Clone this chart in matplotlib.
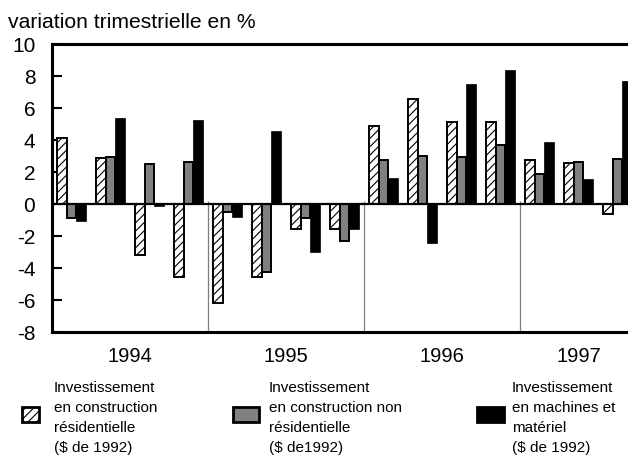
import matplotlib
matplotlib.use('Agg')
import matplotlib.pyplot as plt
import matplotlib.transforms as mtransforms
from matplotlib.patches import Rectangle
import numpy as np

plt.rcParams['font.family'] = ['Liberation Sans', 'DejaVu Sans']
plt.rcParams['hatch.linewidth'] = 0.8
plt.rcParams['axes.unicode_minus'] = False

# quarterly change in %, 1994 Q1 .. 1997 Q3
years = ['1994', '1995', '1996', '1997']
quarters_per_year = [4, 4, 4, 3]
residential = [4.1, 2.9, -3.2, -4.55, -6.2, -4.55, -1.55, -1.55,
               4.85, 6.55, 5.15, 5.15, 2.75, 2.55, -0.6]
non_residential = [-0.85, 2.95, 2.5, 2.6, -0.5, -4.25, -0.85, -2.3,
                   2.75, 3.0, 2.95, 3.7, 1.9, 2.6, 2.8]
machinery = [-1.05, 5.4, -0.1, 5.25, -0.8, 4.55, -3.0, -1.55,
             1.65, -2.45, 7.5, 8.4, 3.9, 1.55, 7.7]

legend_lines = [
    ['Investissement', 'en construction', 'résidentielle', '($ de 1992)'],
    ['Investissement', 'en construction non', 'résidentielle', '($ de1992)'],
    ['Investissement', 'en machines et', 'matériel', '($ de 1992)'],
]

W, H = 628, 457


def fx(x):
    return x / W


def fy(y):
    return 1 - y / H


fig = plt.figure(figsize=(W / 100, H / 100), dpi=100)
ax = fig.add_axes([fx(52), fy(332), (637 - 52) / W, (332 - 44) / H])

n = len(residential)
x = np.arange(n)
bw = 0.25
ax.bar(x + 0.125, residential, bw, align='edge', facecolor='white',
       edgecolor='black', linewidth=1.4, hatch='////', zorder=2)
ax.bar(x + 0.375, non_residential, bw, align='edge', facecolor='#808080',
       edgecolor='black', linewidth=1.4, zorder=2)
ax.bar(x + 0.625, machinery, bw, align='edge', facecolor='black',
       edgecolor='black', linewidth=0.5, zorder=2)

ax.axhline(0, color='black', lw=1.6, zorder=3)

# year separators
bounds = np.cumsum(quarters_per_year)
ax.vlines(bounds[:-1], -8, 0.2, color='#808080', lw=0.9, zorder=1)

ax.set_xlim(0, n)
ax.set_ylim(-8, 10)
ax.set_yticks(range(-8, 11, 2))
ax.set_xticks([])
ax.tick_params(axis='y', direction='in', length=7, width=1.5,
               labelsize=15, pad=12)
for side in ['left', 'top', 'bottom']:
    ax.spines[side].set_linewidth(2.2)
ax.spines['right'].set_visible(False)

trans = mtransforms.blended_transform_factory(ax.transData, ax.transAxes)
starts = np.concatenate([[0], bounds[:-1]])
for yr, s, q in zip(years, starts, quarters_per_year):
    ax.text(s + q / 2, -0.085, yr, transform=trans, ha='center', va='center',
            fontsize=14.5)

fig.text(fx(8), fy(28), 'variation trimestrielle en %', fontsize=15.2,
         va='baseline', ha='left')

# legend
patches = [
    (22, 17, dict(facecolor='white', edgecolor='black', hatch='////')),
    (233, 26, dict(facecolor='#808080', edgecolor='black')),
    (477, 27, dict(facecolor='black', edgecolor='black')),
]
text_x = [54, 269, 512]
for (px, pw, style), tx, lines in zip(patches, text_x, legend_lines):
    rect = Rectangle((fx(px), fy(422)), pw / W, 15 / H, transform=fig.transFigure,
                     linewidth=2, **style)
    fig.add_artist(rect)
    for i, line in enumerate(lines):
        fig.text(fx(tx), fy(392 + 20 * i), line, fontsize=11,
                 va='baseline', ha='left')

fig.savefig('out.png', dpi=100)
